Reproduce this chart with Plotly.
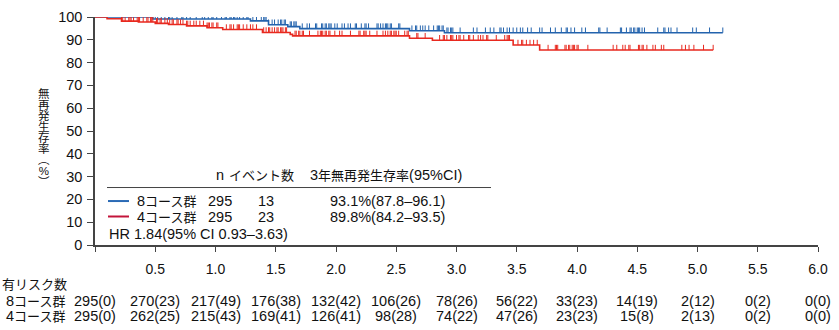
import plotly.graph_objects as go

# ---------------- data ----------------
# Kaplan-Meier step points (years, %)
blue_t = [0, 0.48, 1.29, 1.44, 1.60, 1.70, 2.61, 2.90, 5.21]
blue_s = [100, 99.1, 98.3, 96.6, 95.8, 94.9, 94.0, 93.1, 93.1]
red_t = [0, 0.10, 0.22, 0.36, 0.50, 0.61, 0.76, 0.93, 1.06, 1.39, 1.62, 1.64,
         2.61, 2.80, 3.47, 3.69, 5.13]
red_s = [100, 99.2, 98.2, 97.8, 97.2, 96.7, 96.1, 95.3, 94.5, 93.2, 92.4, 91.7,
         90.7, 89.8, 87.7, 85.5, 85.5]

# censoring times (years)
blue_cens = [0.17, 0.19, 0.21, 0.23, 0.25, 0.26, 0.28, 0.29, 0.32, 0.34, 0.37, 0.41,
             0.45, 0.47, 0.50, 0.52, 0.55, 0.58, 0.61, 0.62, 0.64, 0.68, 0.72, 0.73,
             0.76, 0.79, 0.84, 0.89, 0.91, 0.94, 0.97, 0.98, 1.01, 1.05, 1.08, 1.09,
             1.12, 1.13, 1.15, 1.16, 1.18, 1.20, 1.23, 1.26, 1.27, 1.31, 1.34, 1.38,
             1.40, 1.41, 1.42, 1.44, 1.47, 1.49, 1.52, 1.54, 1.55, 1.57, 1.58, 1.62,
             1.63, 1.65, 1.66, 1.67, 1.72, 1.76, 1.78, 1.83, 1.84, 1.88, 1.89, 1.91,
             1.92, 1.94, 1.95, 1.96, 1.99, 2.01, 2.05, 2.07, 2.10, 2.12, 2.16, 2.17,
             2.21, 2.24, 2.25, 2.27, 2.34, 2.35, 2.37, 2.39, 2.41, 2.42, 2.43, 2.45,
             2.46, 2.52, 2.53, 2.63, 2.66, 2.67, 2.70, 2.72, 2.74, 2.77, 2.81, 2.84,
             2.85, 2.86, 2.88, 2.89, 2.92, 2.93, 2.95, 2.96, 2.97, 3.03, 3.14, 3.17,
             3.24, 3.28, 3.31, 3.36, 3.37, 3.39, 3.42, 3.44, 3.47, 3.50, 3.53, 3.55,
             3.59, 3.62, 3.69, 3.71, 3.78, 3.82, 3.87, 3.91, 3.92, 3.95, 3.98, 4.04,
             4.07, 4.18, 4.19, 4.25, 4.36, 4.37, 4.41, 4.44, 4.45, 4.47, 4.48, 4.50,
             4.51, 4.52, 4.54, 4.56, 4.67, 4.72, 4.73, 4.76, 4.78, 4.83, 4.96, 4.99,
             5.10, 5.21]
red_cens = [0.0, 0.22, 0.23, 0.25, 0.28, 0.29, 0.30, 0.32, 0.35, 0.36, 0.37, 0.40,
            0.43, 0.44, 0.46, 0.47, 0.48, 0.51, 0.52, 0.54, 0.55, 0.58, 0.60, 0.62,
            0.64, 0.65, 0.68, 0.69, 0.71, 0.73, 0.76, 0.77, 0.79, 0.82, 0.84, 0.87,
            0.90, 0.93, 0.94, 0.95, 0.97, 0.98, 1.01, 1.02, 1.09, 1.12, 1.13, 1.15,
            1.18, 1.19, 1.20, 1.23, 1.26, 1.29, 1.31, 1.34, 1.40, 1.42, 1.44, 1.45,
            1.47, 1.49, 1.51, 1.52, 1.54, 1.55, 1.56, 1.58, 1.59, 1.66, 1.67, 1.69,
            1.70, 1.72, 1.73, 1.78, 1.85, 1.87, 1.88, 1.89, 1.91, 1.92, 1.94, 1.95,
            1.99, 2.03, 2.05, 2.12, 2.19, 2.20, 2.23, 2.24, 2.25, 2.28, 2.34, 2.39,
            2.41, 2.43, 2.45, 2.46, 2.48, 2.49, 2.50, 2.52, 2.57, 2.59, 2.60, 2.67,
            2.68, 2.74, 2.86, 2.89, 2.90, 2.92, 2.95, 2.96, 2.97, 3.00, 3.02, 3.03,
            3.06, 3.10, 3.11, 3.14, 3.18, 3.20, 3.22, 3.25, 3.26, 3.33, 3.40, 3.42,
            3.43, 3.44, 3.51, 3.54, 3.55, 3.58, 3.61, 3.64, 3.67, 3.76, 3.82, 3.83,
            3.84, 3.90, 3.91, 3.93, 3.94, 3.96, 3.97, 3.98, 4.00, 4.01, 4.09, 4.30,
            4.33, 4.38, 4.40, 4.43, 4.44, 4.51, 4.52, 4.54, 4.55, 4.58, 4.63, 4.65,
            4.70, 4.72, 4.87, 4.90, 4.93, 4.97, 5.05, 5.13]

x_ticks = [0, 0.5, 1.0, 1.5, 2.0, 2.5, 3.0, 3.5, 4.0, 4.5, 5.0, 5.5, 6.0]
x_tick_text = ["", "0.5", "1.0", "1.5", "2.0", "2.5", "3.0", "3.5", "4.0", "4.5",
               "5.0", "5.5", "6.0"]
y_ticks = [0, 10, 20, 30, 40, 50, 60, 70, 80, 90, 100]

y_title = "無再発生存率(%)"
groups = ["8コース群", "4コース群"]
n_pat = ["295", "295"]
n_evt = ["13", "23"]
rfs3 = ["93.1%(87.8–96.1)", "89.8%(84.2–93.5)"]
hr_text = "HR 1.84(95% CI 0.93–3.63)"
hdr_n = "n"
hdr_evt = "イベント数"
hdr_rfs = "3年無再発生存率(95%CI)"
risk_label = "有リスク数"

risk_8 = ["295(0)", "270(23)", "217(49)", "176(38)", "132(42)", "106(26)", "78(26)",
          "56(22)", "33(23)", "14(19)", "2(12)", "0(2)", "0(0)"]
risk_4 = ["295(0)", "262(25)", "215(43)", "169(41)", "126(41)", "98(28)", "74(22)",
          "47(26)", "23(23)", "15(8)", "2(13)", "0(2)", "0(0)"]

# ---------------- style ----------------
W, H = 839, 330
ML, MR, MT, MB = 95, 21, 9, 85
PW, PH = W - ML - MR, H - MT - MB
BLUE = "#2363ad"
RED = "#e8291f"
LEG_BLUE = "#2a6ab5"
LEG_RED = "#c3143a"
TXT = "#111111"
FONT = "Liberation Sans, Arial, Noto Sans CJK JP, sans-serif"
LAT = 14.5   # latin font size
CJK = 13     # CJK font size
TICK_H = 2.3  # censor tick height in % units


def xp(px):
    return (px - ML) / PW


def yp(py):
    return (H - MB - py) / PH


def is_cjk(ch):
    return ord(ch) > 0x2E80


def mix(text):
    """wrap CJK runs in smaller spans, latin runs in larger ones"""
    out, cur, cur_c = [], "", None
    for ch in text:
        c = is_cjk(ch)
        if cur and c != cur_c:
            out.append((cur, cur_c))
            cur = ""
        cur += ch
        cur_c = c
    if cur:
        out.append((cur, cur_c))
    return "".join(f"<span style='font-size:{CJK if c else LAT}px'>{s}</span>" for s, c in out)


def surv(t, times, vals):
    v = vals[0]
    for ti, vi in zip(times, vals):
        if ti <= t:
            v = vi
    return v


fig = go.Figure()
for times, vals, cens, col in [(blue_t, blue_s, blue_cens, BLUE),
                               (red_t, red_s, red_cens, RED)]:
    fig.add_trace(go.Scatter(x=times, y=vals, mode="lines",
                             line=dict(color=col, width=1.6, shape="hv"),
                             showlegend=False, hoverinfo="skip", cliponaxis=False))
    fig.add_trace(go.Scatter(
        x=cens, y=[surv(c, times, vals) for c in cens], mode="markers",
        marker=dict(size=1, color=col, opacity=0),
        error_y=dict(type="data", symmetric=False, array=[TICK_H] * len(cens),
                     arrayminus=[0] * len(cens), width=0, thickness=1, color=col),
        showlegend=False, hoverinfo="skip", cliponaxis=False))

ann = []
# y-axis title: vertical, stacked characters (line pitch from base font size)
vert_map = {"(": "︵", ")": "︶"}
stack = "<br>".join(f"<span style='font-size:11.5px'>{vert_map.get(c, c)}</span>" for c in y_title)
ann.append(dict(x=xp(44), y=yp(134), text=stack, xanchor="center", yanchor="middle",
                font=dict(size=8.5, color=TXT, family=FONT)))

# legend table
hdr_y = 173
ann.append(dict(x=xp(214), y=yp(hdr_y), text=mix(hdr_n), xanchor="left"))
ann.append(dict(x=xp(227), y=yp(hdr_y), text=mix(hdr_evt), xanchor="left"))
ann.append(dict(x=xp(308), y=yp(hdr_y), text=mix(hdr_rfs), xanchor="left"))
row_y = [199.5, 215.5]
for i in range(2):
    ann.append(dict(x=xp(135), y=yp(row_y[i]), text=mix(groups[i]), xanchor="left"))
    ann.append(dict(x=xp(206), y=yp(row_y[i]), text=mix(n_pat[i]), xanchor="left"))
    ann.append(dict(x=xp(256), y=yp(row_y[i]), text=mix(n_evt[i]), xanchor="left"))
    ann.append(dict(x=xp(328), y=yp(row_y[i]), text=mix(rfs3[i]), xanchor="left"))
ann.append(dict(x=xp(107), y=yp(234), text=mix(hr_text), xanchor="left"))

# risk table
ann.append(dict(x=xp(0), y=yp(286), text=mix(risk_label), xanchor="left"))
for i, rr in enumerate([risk_8, risk_4]):
    yy = yp([303, 319][i])
    ann.append(dict(x=xp(4), y=yy, text=mix(groups[i]), xanchor="left"))
    for t, s in zip(x_ticks, rr):
        ann.append(dict(x=t, xref="x", y=yy, text=mix(s), xanchor="center"))

for a in ann:
    a.setdefault("xref", "paper")
    a.setdefault("yref", "paper")
    a.setdefault("showarrow", False)
    a.setdefault("yanchor", "middle")
    a.setdefault("font", dict(size=LAT, color=TXT, family=FONT))

shapes = [
    dict(type="line", xref="paper", yref="paper", x0=xp(107), x1=xp(491),
         y0=yp(185.5), y1=yp(185.5), line=dict(color="#444444", width=1)),
    dict(type="line", xref="paper", yref="paper", x0=xp(108), x1=xp(129),
         y0=yp(199.5), y1=yp(199.5), line=dict(color=LEG_BLUE, width=2)),
    dict(type="line", xref="paper", yref="paper", x0=xp(108), x1=xp(129),
         y0=yp(215.5), y1=yp(215.5), line=dict(color=LEG_RED, width=2)),
]

fig.update_layout(
    width=W, height=H, margin=dict(l=ML, r=MR, t=MT, b=MB, pad=0),
    paper_bgcolor="white", plot_bgcolor="white",
    font=dict(family=FONT, size=LAT, color=TXT),
    annotations=ann, shapes=shapes, showlegend=False,
    xaxis=dict(range=[0, 6], tickvals=x_ticks, ticktext=x_tick_text, showgrid=False,
               zeroline=False, showline=True, linecolor="#444444", linewidth=1.5,
               ticks="outside", ticklen=5, tickcolor="#444444", tickwidth=1,
               tickfont=dict(size=14, color=TXT), ticklabelstandoff=5),
    yaxis=dict(range=[0, 100], tickvals=y_ticks, showgrid=False, zeroline=False,
               showline=True, linecolor="#444444", linewidth=1.5, ticks="outside",
               ticklen=6, tickcolor="#444444", tickwidth=1,
               tickfont=dict(size=14.5, color=TXT), ticklabelstandoff=2),
)

fig.write_html("out.html")
